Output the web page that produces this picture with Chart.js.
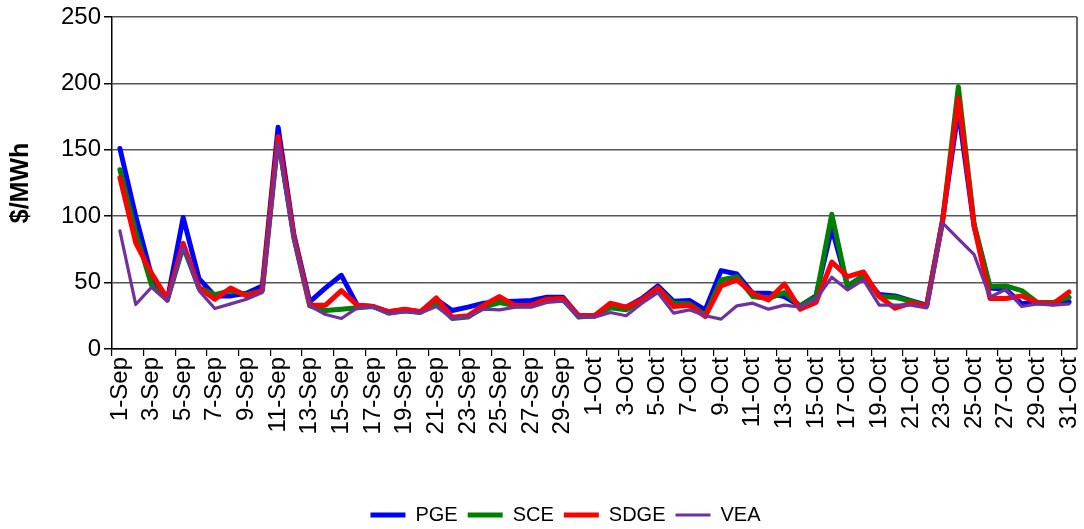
<!DOCTYPE html>
<html>
<head>
<meta charset="utf-8">
<title>Daily prices</title>
<script src="https://cdn.jsdelivr.net/npm/chart.js@4/dist/chart.umd.min.js"></script>
<style>
  html, body { margin: 0; padding: 0; background: #fff; }
  #wrap { position: relative; width: 1084px; height: 529px; }
</style>
</head>
<body>
<div id="wrap"><canvas id="priceChart"></canvas></div>
<script>
// categories: one per day, Sep 1 .. Oct 31
const dayLabels = [
  '1-Sep','2-Sep','3-Sep','4-Sep','5-Sep','6-Sep','7-Sep','8-Sep','9-Sep','10-Sep',
  '11-Sep','12-Sep','13-Sep','14-Sep','15-Sep','16-Sep','17-Sep','18-Sep','19-Sep','20-Sep',
  '21-Sep','22-Sep','23-Sep','24-Sep','25-Sep','26-Sep','27-Sep','28-Sep','29-Sep','30-Sep',
  '1-Oct','2-Oct','3-Oct','4-Oct','5-Oct','6-Oct','7-Oct','8-Oct','9-Oct','10-Oct',
  '11-Oct','12-Oct','13-Oct','14-Oct','15-Oct','16-Oct','17-Oct','18-Oct','19-Oct','20-Oct',
  '21-Oct','22-Oct','23-Oct','24-Oct','25-Oct','26-Oct','27-Oct','28-Oct','29-Oct','30-Oct','31-Oct'
];

// $/MWh
const pgeValues = [
  151, 100, 55, 37, 99, 53, 40, 40, 42, 47.5,
  167, 86, 35.5, 46, 55.5, 33, 32, 28, 29.5, 28,
  37.5, 29, 31.5, 34.5, 35.5, 36, 36.5, 39, 39, 25,
  25, 32.5, 31.5, 38, 47.5, 36, 36.5, 29.5, 59, 56.5,
  42, 42, 39.5, 32.5, 40, 91, 47.5, 55, 41, 40,
  36.5, 33, 97, 180, 92, 46, 45, 34, 35, 34, 35.5
];
const sceValues = [
  135, 88, 48, 37, 77, 46, 41, 44, 41, 44,
  158, 84, 32.5, 29, 30, 31, 32, 27, 29, 27.5,
  35, 23, 24, 31.5, 35, 32.5, 32.5, 37, 37.5, 24,
  25, 31, 29.5, 36, 46, 34.5, 34, 25.5, 52, 54.5,
  39.5, 38, 42.5, 32.5, 39, 101.5, 46.5, 56, 39.5, 39,
  36, 32.5, 96, 197.5, 94, 47, 47.5, 44, 35, 35, 39
];
const sdgeValues = [
  129, 80, 57, 38, 79.5, 46, 37.5, 46, 40, 44,
  160, 84, 33, 33, 44, 33, 32, 28, 30, 28,
  38.5, 24, 25, 33, 39.5, 32.5, 33, 37.5, 38, 25,
  25, 34.5, 31.5, 37, 46, 32, 33, 24.5, 47.5, 52,
  42, 37, 49, 30, 35, 65.5, 54.5, 58, 39.5, 30.75,
  34.5, 32.5, 96, 189, 92.5, 38, 38, 40, 35, 34, 43
];
const veaValues = [
  89, 33.5, 46.5, 36, 77, 44, 30.5, 34, 37.5, 42.5,
  155, 82, 32.5, 26, 23, 31, 31.5, 26.5, 28, 27,
  32, 23, 24, 30, 29.5, 31.5, 31.5, 35, 36, 24,
  24, 27.5, 25, 34.5, 42.5, 27, 29.5, 25, 22.5, 32.5,
  34.5, 30, 33, 31.5, 37.5, 54, 44.5, 52, 33, 33,
  33, 31, 95, 83, 71, 39, 45, 32, 34, 33, 34
];

const yTicks = [0, 50, 100, 150, 200, 250];

const FONT = "'Liberation Sans', Arial, sans-serif";
const PLOT_BOTTOM = 349;   // pixel row of the 0 line
const LEGEND_MID = 515;    // pixel row of the legend text

// right edge of the plot area frame
const plotFrame = {
  id: 'plotFrame',
  afterDraw(chart) {
    const a = chart.chartArea;
    const c = chart.ctx;
    c.save();
    c.strokeStyle = '#333';
    c.lineWidth = 1.5;
    c.beginPath();
    c.moveTo(a.right, a.top);
    c.lineTo(a.right, a.bottom);
    c.stroke();
    c.restore();
  }
};

// nudge legend to where the original sits
const legendNudge = {
  id: 'legendNudge',
  afterLayout(chart) {
    const lg = chart.legend;
    if (!lg) return;
    const dx = 27;
    const pad = lg.options.labels.padding;
    const dy = LEGEND_MID - (lg.top + pad + 10);
    lg.left += dx; lg.right += dx;
    lg.top += dy; lg.bottom += dy;
  }
};

function makeSeries(label, data, color, width) {
  return {
    label: label,
    data: data,
    borderColor: color,
    backgroundColor: color,
    borderWidth: width,
    pointRadius: 0,
    pointHoverRadius: 0,
    tension: 0,
    fill: false,
    borderJoinStyle: 'round',
    borderCapStyle: 'round'
  };
}

new Chart(document.getElementById('priceChart'), {
  type: 'line',
  data: {
    labels: dayLabels,
    // listed top-most first; legend is reversed back to PGE..VEA
    datasets: [
      makeSeries('VEA', veaValues, '#7030A0', 3.2),
      makeSeries('SDGE', sdgeValues, '#FF0000', 5),
      makeSeries('SCE', sceValues, '#008000', 5),
      makeSeries('PGE', pgeValues, '#0000FF', 5)
    ]
  },
  options: {
    responsive: true,
    maintainAspectRatio: false,
    animation: false,
    layout: { padding: { top: 17, right: 7, left: 0, bottom: 0 } },
    plugins: {
      legend: {
        position: 'bottom',
        reverse: true,
        labels: {
          usePointStyle: true,
          pointStyle: 'line',
          pointStyleWidth: 35,
          padding: 10,
          color: '#000',
          font: { family: FONT, size: 20 }
        }
      },
      tooltip: { enabled: false }
    },
    scales: {
      x: {
        offset: true,
        grid: {
          offset: true,
          drawOnChartArea: false,
          tickLength: 7,
          lineWidth: 1.2,
          tickColor: c => (c.index % 2 === 0 ? '#000' : 'rgba(0,0,0,0)')
        },
        border: { color: '#000', width: 1.5 },
        ticks: {
          autoSkip: false,
          minRotation: 90,
          maxRotation: 90,
          padding: 1,
          color: '#000',
          font: { family: FONT, size: 24 },
          callback: (v, i) => (i % 2 === 0 ? dayLabels[i] : '')
        },
        afterFit: s => {
          const lgH = s.chart.legend ? s.chart.legend.height : 0;
          s.height = s.chart.height - PLOT_BOTTOM - lgH;
          s.paddingLeft = 0;
          s.paddingRight = 0;
        }
      },
      y: {
        min: 0,
        max: 250,
        afterBuildTicks: s => { s.ticks = yTicks.map(v => ({ value: v })); },
        grid: { color: '#555', lineWidth: 1.5, tickLength: 8, tickColor: '#000' },
        border: { color: '#000', width: 1.5 },
        ticks: { padding: 3, color: '#000', font: { family: FONT, size: 24 } },
        title: {
          display: true,
          text: '$/MWh',
          color: '#000',
          padding: { top: 6, bottom: 0 },
          font: { family: FONT, size: 25, weight: 'bold' }
        },
        afterFit: s => { s.width = 112; s.paddingTop = 0; s.paddingBottom = 0; }
      }
    }
  },
  plugins: [plotFrame, legendNudge]
});
</script>
</body>
</html>
